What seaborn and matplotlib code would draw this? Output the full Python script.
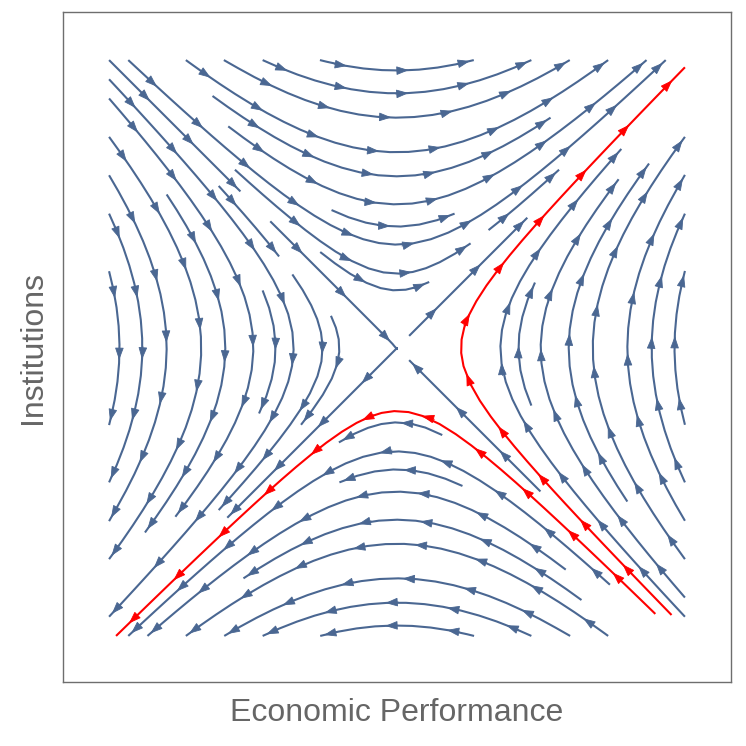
import numpy as np
import matplotlib
matplotlib.use("Agg")
import matplotlib.pyplot as plt
from matplotlib.patches import FancyArrowPatch, ArrowStyle
import seaborn as sns

# dominio del campo (saddle centrado en 0)
x_range = [-1.0, 1.0]
y_range = [-1.0, 1.0]
# campo lineal: dx/dt = a*y, dy/dt = b*x
coef_a = 1.0
coef_b = 1.0
# puntos de inicio de las trayectorias rojas
red_x = [1.0, 0.945]
red_y = [-0.975, -0.97]

x_label = "Economic Performance"
y_label = "Institutions"

sns.set_theme(style="white")
plt.rcParams['font.family'] = ['Liberation Sans', 'DejaVu Sans']

stream_color = "#4a6792"
text_color = "#666666"

xs = np.linspace(x_range[0], x_range[1], 200)
ys = np.linspace(y_range[0], y_range[1], 200)
X, Y = np.meshgrid(xs, ys)
U = coef_a * Y
V = coef_b * X

fig = plt.figure(figsize=(7.46, 7.46), dpi=100)
ax = fig.add_axes([63 / 746, 64 / 746, 668 / 746, 670 / 746])

px_per_unit = 288.0
head = ArrowStyle("-|>", head_length=0.45, head_width=0.16)


def flechas(lineas, color, spacing=62.0, first=4.0, min_start=25.0, z=3):
    # flechas repartidas a lo largo de cada linea (estilo StreamPlot)
    for t in lineas:
        t = np.asarray(t)
        if len(t) < 2:
            continue
        d = np.hypot(np.diff(t[:, 0]), np.diff(t[:, 1])) * px_per_unit
        s = np.concatenate([[0], np.cumsum(d)])
        pos = s[-1] - first
        while pos > min_start:
            i = min(max(np.searchsorted(s, pos), 1), len(t) - 1)
            a, b = t[i - 1], t[i]
            f = (pos - s[i - 1]) / max(s[i] - s[i - 1], 1e-9)
            tip = a + f * (b - a)
            direc = (b - a) / max(np.hypot(*(b - a)), 1e-12)
            ax.add_patch(FancyArrowPatch(tip - direc * 0.045, tip, arrowstyle=head,
                                         mutation_scale=17, color=color,
                                         shrinkA=0, shrinkB=0, lw=0.6,
                                         transform=ax.transData, zorder=z))
            pos -= spacing


# trayectorias rojas
starts = np.column_stack([red_x, red_y])
red = ax.streamplot(X, Y, U, V, start_points=starts, color="red", linewidth=1.5,
                    arrowstyle='-', integration_direction='forward',
                    broken_streamlines=False)
red.lines.set_zorder(4)
red_lines = [np.asarray(t) for t in red.lines.get_segments()]
red_pts = np.vstack(red_lines)

# campo azul
blue = ax.streamplot(X, Y, U, V, density=1.05, color=stream_color, linewidth=1.5,
                     arrowstyle='-', minlength=0.15)
for p in list(ax.patches):
    p.remove()

# quitar tramos azules pegados a las lineas rojas
min_gap = 11.0 / px_per_unit
blue_lines = []
for t in blue.lines.get_segments():
    t = np.asarray(t)
    dist = np.min(np.hypot(t[:, None, 0] - red_pts[None, :, 0],
                           t[:, None, 1] - red_pts[None, :, 1]), axis=1)
    ok = dist > min_gap
    start = None
    for i, v in enumerate(list(ok) + [False]):
        if v and start is None:
            start = i
        elif not v and start is not None:
            piece = t[start:i]
            if len(piece) > 1:
                ln = np.sum(np.hypot(np.diff(piece[:, 0]), np.diff(piece[:, 1]))) * px_per_unit
                if ln > 30:
                    blue_lines.append(piece)
            start = None
blue.lines.set_segments(blue_lines)

flechas(blue_lines, stream_color)
flechas(red_lines, "red", first=18.0, z=5)

ax.set_xlim(-1.16, 1.16)
ax.set_ylim(-1.16, 1.167)
ax.set_xticks([])
ax.set_yticks([])
for s in ax.spines.values():
    s.set_color("#6e6e6e")
    s.set_linewidth(1.0)

fig.text(397 / 746, 1 - 713 / 746, x_label, ha='center', va='center',
         fontsize=23, color=text_color)
fig.text(33 / 746, 1 - 347 / 746, y_label, ha='center', va='center',
         rotation=90, fontsize=23, color=text_color)

fig.savefig("out.png", dpi=100)
